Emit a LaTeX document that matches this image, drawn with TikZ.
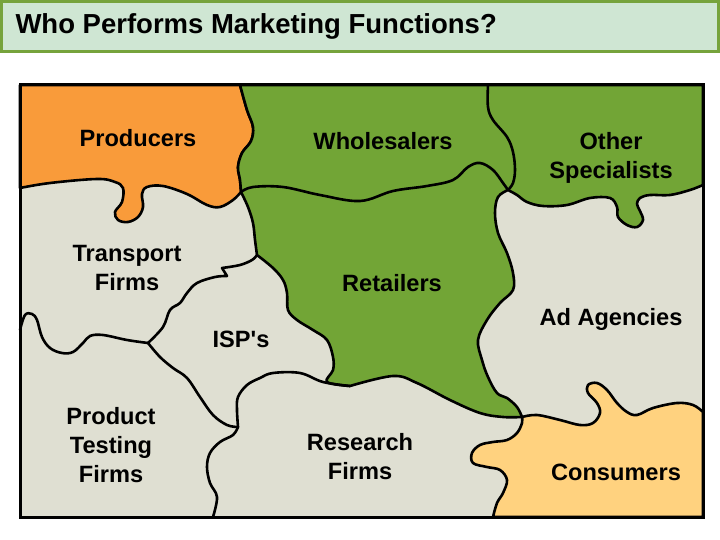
\documentclass[tikz,border=0pt]{standalone}
\usepackage{fontspec}
\setmainfont{Liberation Sans}
\usepackage{tikz}
\usetikzlibrary{positioning}
\definecolor{TitleFill}{HTML}{CFE6D3}
\definecolor{TitleLine}{HTML}{76A33C}
\definecolor{Orange}{HTML}{F99B3A}
\definecolor{Green}{HTML}{72A536}
\definecolor{Stone}{HTML}{DFDFD2}
\definecolor{Peach}{HTML}{FFD27F}
\tikzset{
  seam/.style={line width=2.6pt,line join=round,line cap=round},
  lbl/.style={font=\bfseries\fontsize{23.6}{29}\selectfont,align=center,inner sep=0pt}
}

\begin{document}
\begin{tikzpicture}[x=1pt,y=-1pt]
        \useasboundingbox (0,0) rectangle (720,540);
        \fill[white] (0,0) rectangle (720,540);
        \draw[fill=TitleFill,draw=TitleLine,line width=3pt] (1.5,1.5) rectangle (718.5,52);
        \node[font=\bfseries\fontsize{27.5}{30}\selectfont,anchor=west] (title) at (12,26) {Who Performs Marketing Functions?};
        \fill[Stone] (20,85) rectangle (703,517);
        % producers
        \filldraw[fill=Orange,seam] (20,85) -- (240,85)
          -- plot[smooth,tension=.6] coordinates {(240,85) (247,110) (253,127) (251,141) (242,153) (238,167) (240,180) (241,192)}
          -- plot[smooth,tension=.6] coordinates {(241,192) (233,200) (220,207) (207,205) (187,194) (163,186) (147,187) (142,194) (143,207) (138,217) (128,222) (118,220) (115,212) (122,202) (123,188) (115,182) (97,179) (50,183) (20,188)}
          -- cycle;
        % wholesalers, retailers, other specialists
        \filldraw[fill=Green,seam] (240,85) -- (703,85) -- (703,185)
          -- plot[smooth,tension=.6] coordinates {(703,185) (690,190) (670,195) (650,195) (640,198) (637,204) (640,211) (643,220) (637,227) (627,225) (618,217) (617,207) (610,198) (590,198) (567,205) (543,206) (527,202) (517,195) (508,190)}
          -- plot[smooth,tension=.6] coordinates {(508,190) (498,197) (495,213) (498,233) (507,253) (513,273) (513,290) (500,303) (487,320) (478,340) (482,360) (488,377) (497,393) (507,398) (517,407) (522,417)}
          -- plot[smooth,tension=.6] coordinates {(522,417) (503,417) (480,413) (450,400) (417,383) (393,376) (350,386)}
          -- plot[smooth,tension=.6] coordinates {(350,386) (327,382) (333,370) (333,357) (327,340) (313,330) (297,320) (288,310) (287,293) (283,280) (273,268) (257,255)}
          -- plot[smooth,tension=.6] coordinates {(257,255) (255,240) (253,223) (248,207) (241,192)}
          -- plot[smooth,tension=.6] coordinates {(241,192) (240,180) (238,167) (242,153) (251,141) (253,127) (247,110) (240,85)}
          -- cycle;
        \draw[seam] plot[smooth,tension=.6] coordinates {(241,192) (253,187) (283,187) (320,195) (360,201) (393,191) (427,186) (453,180) (468,167) (480,163) (493,170) (503,183) (508,190)};
        \draw[seam] plot[smooth,tension=.6] coordinates {(488,85) (488,107) (493,120) (507,137) (513,152) (515,170) (513,183) (508,190)};
        % consumers
        \filldraw[fill=Peach,seam]
          plot[smooth,tension=.6] coordinates {(522,417) (537,415) (560,420) (580,425) (593,423) (600,413) (597,403) (588,393) (588,385) (597,383) (607,390) (617,403) (627,412) (637,415) (653,408) (677,403) (693,405) (703,412)}
          -- (703,517) -- (493,517)
          -- plot[smooth,tension=.6] coordinates {(493,517) (497,503) (503,493) (507,480) (500,470) (487,467) (473,463) (472,453) (480,445) (493,442) (507,440) (517,433) (522,423) (522,417)}
          -- cycle;
        % grey seams
        \draw[seam] plot[smooth,tension=.6] coordinates {(257,255) (252,260) (240,265) (222,268)} -- (227,276)
          -- plot[smooth,tension=.6] coordinates {(227,276) (215,277) (197,283) (187,293) (180,303) (170,310) (163,327) (148,343)};
        \draw[seam] plot[smooth,tension=.6] coordinates {(20,330) (25,315) (32,314) (37,320) (42,337) (50,348) (62,353) (73,352) (83,343) (90,336) (103,335) (127,340) (148,343)};
        \draw[seam] plot[smooth,tension=.6] coordinates {(148,343) (160,357) (173,368) (187,378) (200,397) (213,415) (227,425) (238,427)};
        \draw[seam] plot[smooth,tension=.6] coordinates {(238,427) (237,410) (238,397) (247,385) (260,378) (273,373) (300,373) (323,382) (350,386)};
        \draw[seam] plot[smooth,tension=.6] coordinates {(238,427) (233,435) (220,442) (210,453) (207,467) (210,483) (217,497) (213,517)};
        \draw[line width=3pt] (20,85) rectangle (703,517);
        % labels
        \node[lbl] (producers) at (138,138) {Producers};
        \node[lbl] (wholesalers) at (383,141) {Wholesalers};
        \node[lbl] (other) at (611,158) {Other\\Specialists};
        \node[lbl] (transport) at (127,268) {Transport\\Firms};
        \node[lbl] (retailers) at (392,283) {Retailers};
        \node[lbl] (ads) at (611,319) {Ad Agencies};
        \node[lbl] (isp) at (241,339) {ISP\textquotesingle s};
        \node[lbl] (testing) at (111,445) {Product\\Testing\\Firms};
        \node[lbl] (research) at (360,457) {Research\\Firms};
        \node[lbl] (consumers) at (616,472) {Consumers};
      \end{tikzpicture}
\end{document}
